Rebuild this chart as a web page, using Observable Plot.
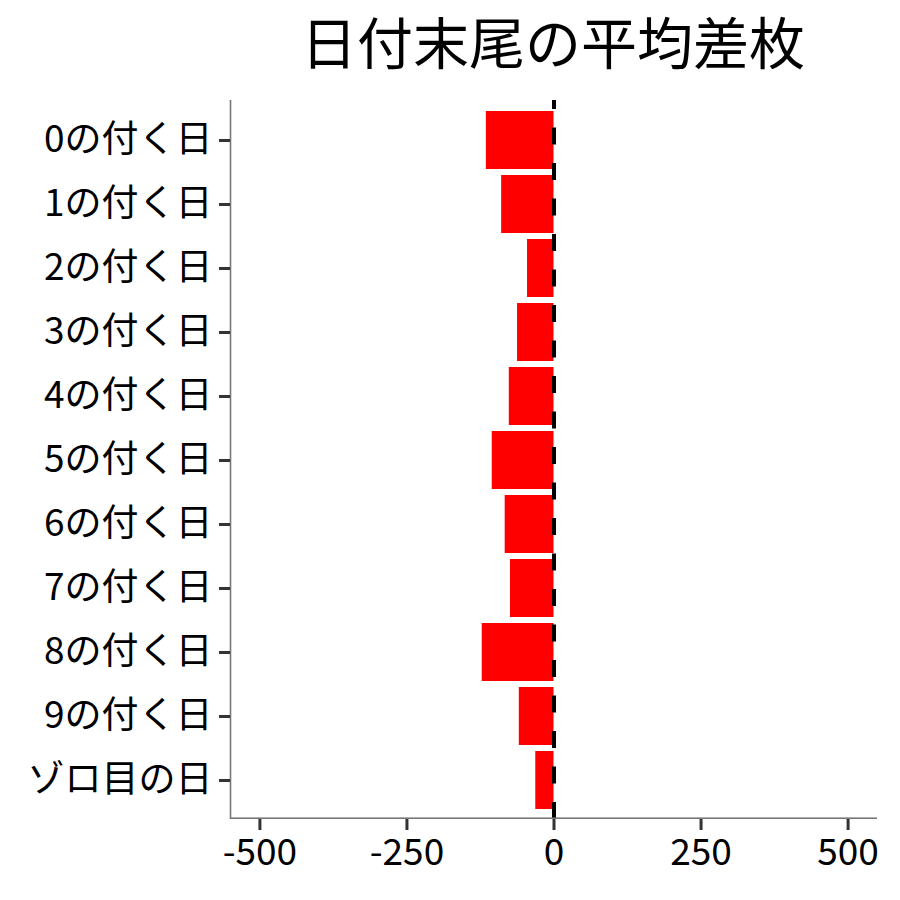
<!DOCTYPE html>
<html>
<head>
<meta charset="utf-8">
<script src="https://cdn.jsdelivr.net/npm/d3@7"></script>
<script src="https://cdn.jsdelivr.net/npm/@observablehq/plot@0.6"></script>
<style>
  html, body { margin: 0; padding: 0; background: #fff; }
  #wrap { position: relative; width: 900px; height: 900px; font-family: "Noto Sans CJK JP", "Noto Sans", sans-serif; }
  #title { position: absolute; left: 0; top: 12px; width: 1106px; text-align: center; font-size: 56px; color: #000; line-height: 1; white-space: nowrap; }
  #chart { position: absolute; left: 0; top: 90px; }
</style>
</head>
<body>
<div id="wrap">
  <div id="title">日付末尾の平均差枚</div>
  <div id="chart"></div>
</div>
<script>
const categories = ["0の付く日","1の付く日","2の付く日","3の付く日","4の付く日","5の付く日","6の付く日","7の付く日","8の付く日","9の付く日","ゾロ目の日"];
const values = [-115, -89, -45, -62, -76, -105, -83, -74, -122, -59, -31];
const xTicks = [-500, -250, 0, 250, 500];
const xDomain = [-550, 550];

const data = categories.map((c, i) => ({cat: c, val: values[i]}));

const H = 810, MT = 10, MB = 81;
const chart = Plot.plot({
  width: 900,
  height: H,
  marginTop: MT,
  marginBottom: MB,
  marginLeft: 230,
  marginRight: 23,
  style: { fontFamily: '"Noto Sans CJK JP", "Noto Sans", sans-serif', fontSize: "37px", color: "#000", background: "#fff" },
  x: { domain: xDomain, ticks: xTicks, label: null },
  y: { domain: categories, paddingInner: 0.1, paddingOuter: 0.15, label: null },
  marks: [
    Plot.barX(data, { y: "cat", x1: 0, x2: "val", fill: "#FF0000" }),
    Plot.ruleX([0], { stroke: "#000", strokeWidth: 4, strokeDasharray: "17,18.5", strokeDashoffset: 8 }),
    Plot.ruleX([xDomain[0]], { stroke: "#777", strokeWidth: 1.6 }),
    Plot.rect([0], { x1: xDomain[0], x2: xDomain[1], fill: "#777", insetTop: H - MT - MB - 1.6 }),
    Plot.axisY({ tickSize: 11, tickPadding: 7, stroke: "#333", strokeWidth: 3, fontSize: 37, fill: "#000" }),
    Plot.axisX({ ticks: xTicks, tickSize: 11, tickPadding: 8, stroke: "#333", strokeWidth: 3, fontSize: 37, fill: "#000", tickFormat: d => String(d) })
  ]
});
document.getElementById("chart").appendChild(chart);
</script>
</body>
</html>
